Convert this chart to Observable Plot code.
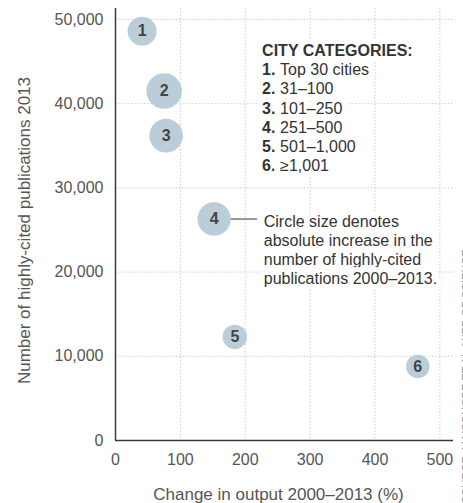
<!DOCTYPE html>
<html>
<head>
<meta charset="utf-8">
<script src="https://cdn.jsdelivr.net/npm/d3@7"></script>
<script src="https://cdn.jsdelivr.net/npm/@observablehq/plot@0.6"></script>
<style>
  html, body { margin: 0; padding: 0; background: #fff; overflow: hidden; }
</style>
</head>
<body>
<div id="chart"></div>
<script>
const categories = ["1", "2", "3", "4", "5", "6"];
const changePct = [41, 75, 78, 152, 184, 466];
const pubs2013 = [48600, 41500, 36200, 26300, 12300, 8800];
const absIncrease = [11700, 17600, 15700, 15500, 8300, 7600];
const categoryLabels = ["Top 30 cities", "31–100", "101–250", "251–500", "501–1,000", "≥1,001"];
const xTicks = [0, 100, 200, 300, 400, 500];
const yTicks = [0, 10000, 20000, 30000, 40000, 50000];
const xLabel = "Change in output 2000–2013 (%)";
const yLabel = "Number of highly-cited publications 2013";
const legendTitle = "CITY CATEGORIES:";
const sizeNote = "Circle size denotes\nabsolute increase in the\nnumber of highly-cited\npublications 2000–2013.";
const sourceNote = "SOURCE: MAISONOBE ET AL./WEB OF SCIENCE";

const data = categories.map((c, i) => ({
  cat: c, x: changePct[i], y: pubs2013[i], inc: absIncrease[i]
}));

const legendBold = [legendTitle, ...categories.map(c => c + ".")].join("\n");
const legendRest = ["", ...categoryLabels].join("\n");

// annotation anchors (data space)
const legendPos = [{x: 226, y: 50000}];
const notePos = [{x: 228.5, y: pubs2013[3]}];
const connector = [{x1: changePct[3], x2: 219, y: pubs2013[3]}];

const font = "'Liberation Sans', Arial, Helvetica, sans-serif";

const chart = Plot.plot({
  width: 463,
  height: 503,
  marginLeft: 115,
  marginRight: 10,
  marginTop: 8,
  marginBottom: 63,
  style: {fontFamily: font, fontSize: "16px", background: "#fff", overflow: "visible"},
  x: {domain: [0, 521], axis: null},
  y: {domain: [0, 51300], axis: null},
  r: {type: "sqrt", domain: [0, 18000], range: [0, 18]},
  marks: [
    Plot.gridX(xTicks.slice(1), {stroke: "#c4c4c4", strokeOpacity: 1, strokeDasharray: "1.2,2"}),
    Plot.gridY(yTicks.slice(1), {stroke: "#c4c4c4", strokeOpacity: 1, strokeDasharray: "1.2,2"}),
    Plot.ruleX([0], {stroke: "#3a3a3a", strokeWidth: 1.5}),
    Plot.ruleY([0], {stroke: "#3a3a3a", strokeWidth: 1.5}),
    Plot.axisX(xTicks, {tickSize: 0, tickPadding: 13, fill: "#555", fontSize: 16, label: null}),
    Plot.axisY(yTicks, {tickSize: 0, tickPadding: 12, fill: "#555", fontSize: 16, label: null, tickFormat: d3.format(",")}),
    Plot.text([xLabel], {frameAnchor: "bottom", textAnchor: "middle", dx: -6, dy: 54, lineAnchor: "middle", fill: "#555", fontSize: 17}),
    Plot.text([yLabel], {frameAnchor: "left", textAnchor: "middle", rotate: -90, dx: -91, dy: 6, lineAnchor: "middle", fill: "#555", fontSize: 17}),
    // legend block
    Plot.text(legendPos, {x: "x", y: "y", text: [legendBold], textAnchor: "start", lineAnchor: "top", dy: 23,
      lineHeight: 1.2, fontWeight: "bold", fill: "#333", fontSize: 16, stroke: "white", strokeWidth: 12}),
    Plot.text(legendPos, {x: "x", y: "y", text: [legendRest], textAnchor: "start", lineAnchor: "top", dy: 23, dx: 18,
      lineHeight: 1.2, fill: "#333", fontSize: 16, stroke: "white", strokeWidth: 12}),
    // size note
    Plot.text(notePos, {x: "x", y: "y", text: [sizeNote], textAnchor: "start", lineAnchor: "top", dy: -6,
      lineHeight: 1.2, fill: "#333", fontSize: 16, stroke: "white", strokeWidth: 10}),
    Plot.ruleY(connector, {x1: "x1", x2: "x2", y: "y", stroke: "#333", strokeWidth: 1}),
    // bubbles
    Plot.dot(data, {x: "x", y: "y", r: "inc", fill: "#bacdd9", stroke: "none"}),
    Plot.text(data, {x: "x", y: "y", text: "cat", fontWeight: "bold", fill: "#444", fontSize: 16}),
    // source note, clipped at right edge as in the original
    Plot.text([sourceNote], {frameAnchor: "bottom-right", rotate: -90, dx: 16, dy: 63, textAnchor: "start",
      lineAnchor: "bottom", fill: "#888", fontSize: 11})
  ]
});

document.getElementById("chart").appendChild(chart);
</script>
</body>
</html>
